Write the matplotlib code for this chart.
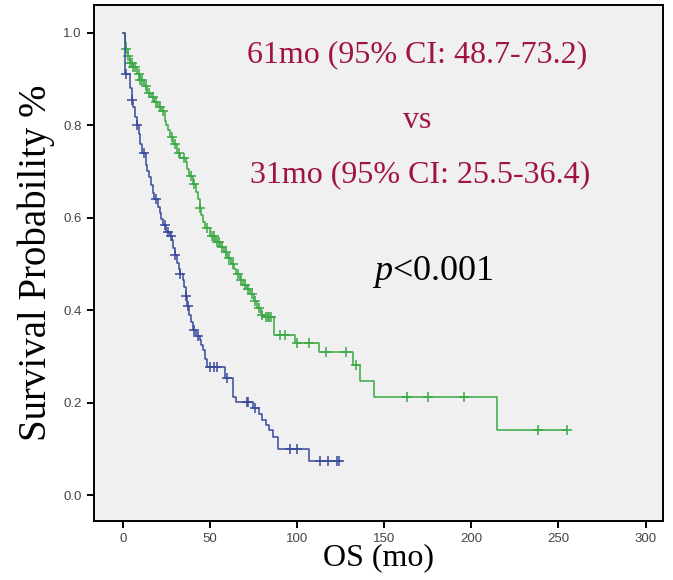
import numpy as np
import matplotlib
matplotlib.use("Agg")
from matplotlib import pyplot as plt

# group 1 (green): event times and survival after each step
green_t = [0, 1, 2, 3, 4, 6, 8, 10, 12, 14, 16, 18, 20, 22, 24, 25, 26, 27, 29, 31,
           33, 36, 37, 38, 40, 42, 43, 44, 45, 46, 47, 50, 53, 56, 58, 60, 62, 64, 65, 67,
           69, 71, 73, 75, 77, 79, 81, 87, 98.7, 112.4, 131.9, 136, 144, 214.6]
green_s = [1.0, 0.98, 0.965, 0.95, 0.935, 0.925, 0.91, 0.898, 0.885, 0.87, 0.86, 0.85, 0.84, 0.83,
           0.81, 0.80, 0.79, 0.775, 0.76, 0.74, 0.73, 0.72, 0.705, 0.69, 0.672, 0.655, 0.64, 0.62,
           0.605, 0.59, 0.578, 0.56, 0.548, 0.536, 0.525, 0.512, 0.50, 0.49, 0.478, 0.465, 0.455,
           0.445, 0.435, 0.42, 0.405, 0.39, 0.385, 0.346, 0.330, 0.310, 0.281, 0.247, 0.212, 0.141]
green_end = 255
green_cens = [2, 3, 4, 5, 6, 7, 9, 10, 11, 13, 15, 17, 19, 21, 23, 28, 30, 32, 35, 39, 41, 44,
              48, 51, 52, 54, 55, 57, 59, 61, 63, 66, 68, 70, 72, 74, 76, 78, 80, 82, 83, 84, 85,
              90, 93, 99.8, 106.7, 116.5, 127.9, 133.7, 163, 175, 196, 238, 254.7]

# group 2 (blue)
blue_t = [0, 1, 4, 5, 6, 7, 8, 9, 10, 11, 13, 14, 15, 16, 17, 18, 20, 21, 22, 23, 25, 27, 28,
          29, 30, 31, 32, 33, 34.4, 35, 36, 37, 38, 39, 40, 42, 44, 45, 46, 47, 48, 58.5, 63, 65,
          74.6, 78, 80, 82, 84, 86, 89, 107]
blue_s = [1.0, 0.91, 0.88, 0.855, 0.84, 0.818, 0.80, 0.78, 0.76, 0.74, 0.715, 0.70, 0.688, 0.67,
          0.654, 0.64, 0.623, 0.61, 0.597, 0.584, 0.57, 0.56, 0.552, 0.535, 0.52, 0.502, 0.49,
          0.478, 0.465, 0.45, 0.43, 0.41, 0.39, 0.375, 0.357, 0.345, 0.335, 0.325, 0.314, 0.295,
          0.277, 0.253, 0.212, 0.201, 0.188, 0.175, 0.162, 0.152, 0.141, 0.125, 0.10, 0.074]
blue_end = 124
blue_cens = [1.5, 5, 8, 12, 19, 24, 26, 27.5, 30, 33, 36, 37.5, 41, 43, 50, 52, 54, 60, 71, 72,
             76, 96, 100, 113, 117.6, 122.8, 124]

x_ticks = [0, 50, 100, 150, 200, 250, 300]
y_ticks = [0.0, 0.2, 0.4, 0.6, 0.8, 1.0]

GREEN = '#3aa843'
BLUE = '#3a4a9a'
RED = '#a0143f'

plt.rcParams['mathtext.fontset'] = 'custom'
plt.rcParams['mathtext.it'] = 'Liberation Serif:italic'
plt.rcParams['mathtext.rm'] = 'Liberation Serif'


def draw_km(ax, t, s, end, cens, color):
    t = np.array(t + [end])
    s = np.array(s + [s[-1]])
    ax.step(t, s, where='post', color=color, lw=1.1)
    cens = np.array(cens)
    idx = np.searchsorted(t, cens, side='right') - 1
    ax.plot(cens, s[idx], ls='none', marker='+', ms=7, mew=1.1, color=color)


fig = plt.figure(figsize=(6.73, 5.8), dpi=100)
ax = fig.add_axes([94/673, 1 - 521/580, 569/673, 516/580])
ax.set_facecolor('#f0f0f0')

draw_km(ax, green_t, green_s, green_end, green_cens, GREEN)
draw_km(ax, blue_t, blue_s, blue_end, blue_cens, BLUE)

ax.set_xlim(-16.6, 310)
ax.set_ylim(-0.056, 1.06)
ax.set_xticks(x_ticks)
ax.set_xticklabels([str(v) for v in x_ticks])
ax.set_yticks(y_ticks)
ax.set_yticklabels([f'{v:.1f}' for v in y_ticks])
ax.tick_params(direction='out', length=5, width=1.4, labelsize=9.5, labelcolor='#444444',
               pad=4)
for lab in ax.get_xticklabels() + ax.get_yticklabels():
    lab.set_family('Liberation Sans')
for sp in ax.spines.values():
    sp.set_linewidth(1.4)

serif = 'Liberation Serif'
ax.set_ylabel('Survival Probability %', family=serif, fontsize=28, labelpad=6)
ax.set_xlabel('OS (mo)', family=serif, fontsize=23, labelpad=-2)

ax.text(0.568, 0.903, '61mo (95% CI: 48.7-73.2)', transform=ax.transAxes, ha='center',
        va='center', color=RED, family=serif, fontsize=23)
ax.text(0.568, 0.777, 'vs', transform=ax.transAxes, ha='center', va='center', color=RED,
        family=serif, fontsize=23)
ax.text(0.573, 0.671, '31mo (95% CI: 25.5-36.4)', transform=ax.transAxes, ha='center',
        va='center', color=RED, family=serif, fontsize=23)
ax.text(0.596, 0.483, r'$\mathit{p}$<0.001', transform=ax.transAxes, ha='center', va='center',
        color='black', family=serif, fontsize=26)

fig.savefig('out.png', dpi=100)
